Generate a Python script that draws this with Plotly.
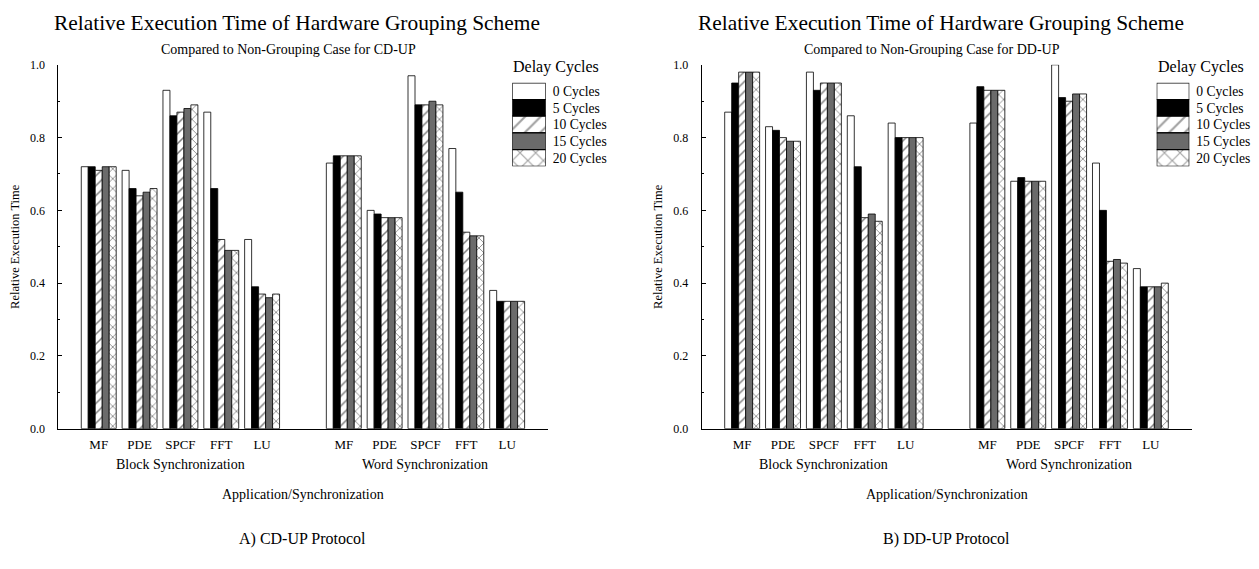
import plotly.graph_objects as go

# ---------------- data ----------------
apps = ["MF", "PDE", "SPCF", "FFT", "LU"]
sync_types = ["Block Synchronization", "Word Synchronization"]
delays = ["0 Cycles", "5 Cycles", "10 Cycles", "15 Cycles", "20 Cycles"]

# values: Block MF..LU, then Word MF..LU
cdup_0 = [0.72, 0.71, 0.93, 0.87, 0.52, 0.73, 0.60, 0.97, 0.77, 0.38]
cdup_5 = [0.72, 0.66, 0.86, 0.66, 0.39, 0.75, 0.59, 0.89, 0.65, 0.35]
cdup_10 = [0.71, 0.64, 0.87, 0.52, 0.37, 0.75, 0.58, 0.89, 0.54, 0.35]
cdup_15 = [0.72, 0.65, 0.88, 0.49, 0.36, 0.75, 0.58, 0.90, 0.53, 0.35]
cdup_20 = [0.72, 0.66, 0.89, 0.49, 0.37, 0.75, 0.58, 0.89, 0.53, 0.35]

ddup_0 = [0.87, 0.83, 0.98, 0.86, 0.84, 0.84, 0.68, 1.00, 0.73, 0.44]
ddup_5 = [0.95, 0.82, 0.93, 0.72, 0.80, 0.94, 0.69, 0.91, 0.60, 0.39]
ddup_10 = [0.98, 0.80, 0.95, 0.58, 0.80, 0.93, 0.68, 0.90, 0.46, 0.39]
ddup_15 = [0.98, 0.79, 0.95, 0.59, 0.80, 0.93, 0.68, 0.92, 0.465, 0.39]
ddup_20 = [0.98, 0.79, 0.95, 0.57, 0.80, 0.93, 0.68, 0.92, 0.455, 0.40]

y_ticks = [0.0, 0.2, 0.4, 0.6, 0.8, 1.0]

# ---------------- styles ----------------
FONT = "Liberation Serif"
W, H = 1259, 569
fills = ["white", "black", "white", "#6b6b6b", "white"]
shapes = ["", "", "/", "", "x"]

cd_series = [cdup_0, cdup_5, cdup_10, cdup_15, cdup_20]
dd_series = [ddup_0, ddup_5, ddup_10, ddup_15, ddup_20]

# category positions: block group, one empty slot, word group
positions = list(range(len(apps))) + [i + len(apps) + 1 for i in range(len(apps))]
tick_text = apps + apps

fig = go.Figure()


def px_x(p):
    return p / W


def px_y(p):
    return 1 - p / H


panels = [
    dict(series=cd_series, xa="x", ya="y", lx="x3", ly="y3",
         dom=[58.3, 548.0], leg=[512.3, 545.7],
         proto="A) CD-UP Protocol", case="CD-UP", ytitle_x=15),
    dict(series=dd_series, xa="x2", ya="y2", lx="x4", ly="y4",
         dom=[701.7, 1191.7], leg=[1156.7, 1189.3],
         proto="B) DD-UP Protocol", case="DD-UP", ytitle_x=658),
]


def txt(text, x, y, size, xref="paper", **kw):
    d = dict(text=text, xref=xref, yref="paper", x=x, y=y, showarrow=False,
             xanchor="center", yanchor="middle",
             font=dict(family=FONT, size=size, color="black"))
    d.update(kw)
    return d


annotations = []
for k, p in enumerate(panels):
    for i, name in enumerate(delays):
        fig.add_trace(go.Bar(
            x=positions, y=p["series"][i], name=name, showlegend=False,
            xaxis=p["xa"], yaxis=p["ya"],
            marker=dict(color=fills[i], line=dict(color="black", width=0.8),
                        pattern=dict(shape=shapes[i], fgcolor="black", bgcolor="white",
                                     size=7, solidity=0.22)),
        ))
    # custom legend drawn as a stacked swatch column
    fig.add_trace(go.Bar(
        y=delays, x=[1] * len(delays), orientation="h", width=[1] * len(delays),
        showlegend=False, hoverinfo="skip", xaxis=p["lx"], yaxis=p["ly"],
        marker=dict(color=fills, line=dict(color="black", width=1.2),
                    pattern=dict(shape=shapes, fgcolor="black", bgcolor="white",
                                 size=11, solidity=0.2)),
    ))

    x0, x1 = p["dom"]
    ax_id = "" if k == 0 else "2"
    fig.layout["xaxis" + ax_id] = dict(
        domain=[px_x(x0), px_x(x1)], range=[-0.99, 11.0], anchor="y" + ax_id,
        tickvals=positions, ticktext=tick_text, showline=True, linecolor="black",
        linewidth=1, ticks="", showgrid=False, zeroline=False,
        tickfont=dict(family=FONT, size=13, color="black"), ticklabelstandoff=4,
        fixedrange=True,
    )
    fig.layout["yaxis" + ax_id] = dict(
        domain=[px_y(432.3), px_y(59.3)], range=[0, 1.0], anchor="x" + ax_id,
        tickvals=y_ticks, tickformat=".1f", ticks="inside", ticklen=4, tickcolor="black",
        showline=True, linecolor="black", linewidth=1, showgrid=False, zeroline=False,
        minor=dict(dtick=0.1, ticks="inside", ticklen=2, tickcolor="black", showgrid=False),
        tickfont=dict(family=FONT, size=12, color="black"), ticklabelstandoff=10,
        fixedrange=True,
    )
    lx_id = "3" if k == 0 else "4"
    l0, l1 = p["leg"]
    fig.layout["xaxis" + lx_id] = dict(
        domain=[px_x(l0), px_x(l1)], range=[0, 1], anchor="y" + lx_id, visible=False,
        fixedrange=True,
    )
    fig.layout["yaxis" + lx_id] = dict(
        domain=[px_y(163.3), px_y(77.7)], range=[4.5, -0.5], anchor="x" + lx_id,
        side="right", ticks="", showline=False, showgrid=False, zeroline=False,
        tickfont=dict(family=FONT, size=13.6, color="black"), ticklabelstandoff=6,
        fixedrange=True,
    )

    xr = "x" + ax_id
    mid = (x0 + x1) / 2
    annotations += [
        txt("Relative Execution Time of Hardware Grouping Scheme", px_x(mid - 6), px_y(16), 21.4),
        txt("Compared to Non-Grouping Case for " + p["case"], px_x(mid - 15), px_y(44), 14),
        txt("Delay Cycles", px_x(l0 - 1), px_y(62), 16, xanchor="left"),
        txt("Relative Execution Time", px_x(p["ytitle_x"]), px_y(246), 12.5, textangle=-90),
        txt(sync_types[0], 2, px_y(469), 14, xref=xr),
        txt(sync_types[1], 8, px_y(469), 14, xref=xr),
        txt("Application/Synchronization", 5, px_y(500), 14, xref=xr),
        txt(p["proto"], 5, px_y(545), 16, xref=xr),
    ]

fig.update_layout(
    width=W, height=H, margin=dict(l=0, r=0, t=0, b=0),
    paper_bgcolor="white", plot_bgcolor="white",
    barmode="group", bargap=0.145, bargroupgap=0,
    annotations=annotations, showlegend=False,
    font=dict(family=FONT, color="black"),
)

fig.write_html("out.html", config={"displayModeBar": False},
               post_script="document.body.style.margin='0';")
